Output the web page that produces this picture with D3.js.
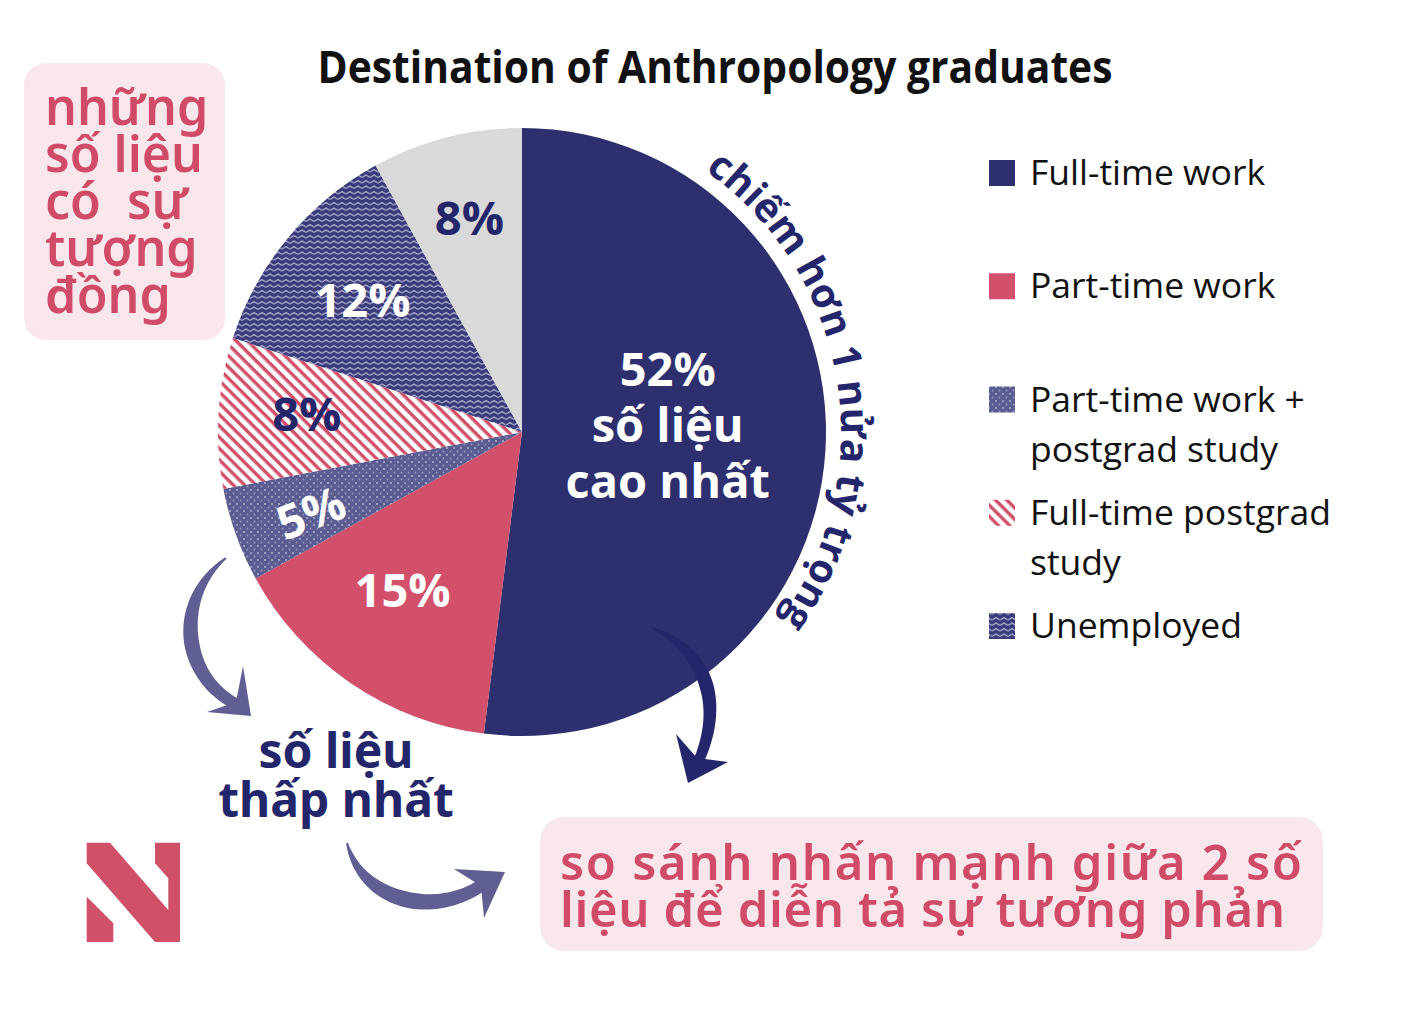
<!DOCTYPE html>
<html><head><meta charset="utf-8">
<script src="https://cdn.jsdelivr.net/npm/d3@7"></script>
<style>body{margin:0;background:#fff}svg{display:block}</style>
</head><body>
<svg id="c" width="1420" height="1032"></svg>
<script>
// ---------- data ----------
const categories = ["Full-time work","Part-time work","Part-time work + postgrad study","Full-time postgrad study","Unemployed","Other"];
const values = [52,15,5,8,12,8];
const sliceLabels = ["52%","15%","5%","8%","12%","8%"];
const centerNote = ["52%","số liệu","cao nhất"];
const legendEntries = [["Full-time work"],["Part-time work"],["Part-time work +","postgrad study"],["Full-time postgrad","study"],["Unemployed"]];
const title = "Destination of Anthropology graduates";
const curvedNote = "chiếm hơn 1 nửa tỷ trọng";
const similarNote = ["những","số liệu","có\u00a0\u00a0sự","tượng","đồng"];
const lowestNote = ["số liệu","thấp nhất"];
const contrastNote = ["so sánh nhấn mạnh giữa 2 số","liệu để diễn tả sự tương phản"];

// ---------- styles ----------
const NAVY = "#2e2f6e", NAVY_T = "#24266b", PINK = "#d3506a", SLATE = "#5f5f93", GREY = "#d9d9d9";
const fills = ["fill:"+NAVY,"fill:"+PINK,"url(#dots)","url(#stripes)","url(#wavy)","fill:"+GREY];
const labelColors = ["#fff","#fff","#fff",NAVY_T,"#fff",NAVY_T];

const svg = d3.select("#c");
const defs = svg.append("defs");
// dots
const pd = defs.append("pattern").attr("id","dots").attr("patternUnits","userSpaceOnUse").attr("width",7).attr("height",7);
pd.append("rect").attr("width",7).attr("height",7).attr("fill","#5b5c91");
pd.append("circle").attr("cx",2).attr("cy",2).attr("r",0.9).attr("fill","#b9b9d6");
pd.append("circle").attr("cx",5.5).attr("cy",5.5).attr("r",0.9).attr("fill","#9a9ac0");
// stripes
const ps = defs.append("pattern").attr("id","stripes").attr("patternUnits","userSpaceOnUse").attr("width",8).attr("height",8).attr("patternTransform","rotate(45)");
ps.append("rect").attr("width",8).attr("height",8).attr("fill","#fff");
ps.append("rect").attr("width",8).attr("height",3.4).attr("fill",PINK);
// wavy
const pw = defs.append("pattern").attr("id","wavy").attr("patternUnits","userSpaceOnUse").attr("width",8).attr("height",5.5);
pw.append("rect").attr("width",8).attr("height",5.5).attr("fill","#3a3b7a");
pw.append("path").attr("d","M0,4 L4,1.5 L8,4").attr("fill","none").attr("stroke","#c9c9e4").attr("stroke-width",1.1);

function fillOf(i){ return fills[i].startsWith("url") ? fills[i] : fills[i].slice(5); }

// ---------- title ----------
svg.append("text").attr("x",715).attr("y",83).attr("text-anchor","middle")
  .attr("font-family","Open Sans").attr("font-weight",700).attr("font-size",44)
  .attr("textLength",795).attr("lengthAdjust","spacingAndGlyphs").attr("fill","#111").text(title);

// ---------- pie ----------
const cx = 522, cy = 432, R = 304;
const pie = d3.pie().sort(null).value(d=>d)(values);
const arc = d3.arc().innerRadius(0).outerRadius(R);
const g = svg.append("g").attr("transform",`translate(${cx},${cy})`);
g.selectAll("path.s").data(pie).join("path").attr("class","s").attr("d",arc).attr("fill",(d,i)=>fillOf(i));

// labels
const labelR = [146,198,226,216,207,220];
const labelAngOff = [0,0.05,-0.02,0.02,0,0.01];
const lf = {family:"Open Sans", weight:700, size:47};
pie.forEach((d,i)=>{
  const a = (d.startAngle+d.endAngle)/2 + labelAngOff[i];
  const x = Math.sin(a)*labelR[i], y = -Math.cos(a)*labelR[i];
  if(i===0){
    const t = g.append("text").attr("text-anchor","middle").attr("font-family",lf.family).attr("font-weight",lf.weight)
      .attr("font-size",lf.size).attr("fill","#fff");
    centerNote.forEach((s,k)=> t.append("tspan").attr("x",x).attr("y",y-55+k*56).text(s));
  } else {
    g.append("text").attr("transform",`translate(${x},${y}) rotate(${i===2?-21:0})`).attr("text-anchor","middle")
      .attr("dy","0.36em").attr("font-family",lf.family).attr("font-weight",lf.weight).attr("font-size",lf.size)
      .attr("fill",labelColors[i]).text(sliceLabels[i]);
  }
});

// curved note
const cr = 319, a0 = 35*Math.PI/180, a1 = 165*Math.PI/180;
defs.append("path").attr("id","curve")
  .attr("d",`M${cx+cr*Math.sin(a0)},${cy-cr*Math.cos(a0)} A${cr},${cr} 0 0 1 ${cx+cr*Math.sin(a1)},${cy-cr*Math.cos(a1)}`);
svg.append("text").attr("font-family","Open Sans").attr("font-weight",700).attr("font-size",40).attr("fill",NAVY_T)
  .append("textPath").attr("href","#curve").text(curvedNote);

// ---------- legend ----------
const lg = svg.append("g");
const ly = d3.scaleLinear().domain([0,4]).range([160,613]);
legendEntries.forEach((lines,i)=>{
  lg.append("rect").attr("x",989).attr("y",ly(i)).attr("width",26).attr("height",26).attr("fill",fillOf(i));
  const t = lg.append("text").attr("font-family","Open Sans").attr("font-size",35.5).attr("fill","#111");
  lines.forEach((s,k)=> t.append("tspan").attr("x",1030).attr("y",ly(i)+25+k*50).text(s));
});

// ---------- annotation boxes ----------
svg.append("rect").attr("x",24).attr("y",63).attr("width",201).attr("height",277).attr("rx",22).attr("fill","#f9e7eb");
const t1 = svg.append("text").attr("font-family","Noto Sans").attr("font-weight",600).attr("font-size",50).attr("fill","#d04b67");
similarNote.forEach((s,k)=> t1.append("tspan").attr("x",45).attr("y",125+k*47).text(s));

svg.append("rect").attr("x",540).attr("y",817).attr("width",783).attr("height",134).attr("rx",24).attr("fill","#f9e7eb");
const contrastLen = [742,725];
contrastNote.forEach((s,k)=> svg.append("text").attr("font-family","Noto Sans").attr("font-weight",600).attr("font-size",49)
  .attr("fill","#d04b67").attr("x",560).attr("y",880+k*47).attr("textLength",contrastLen[k]).attr("lengthAdjust","spacing").text(s));

const t3 = svg.append("text").attr("text-anchor","middle").attr("font-family","Noto Sans").attr("font-weight",700).attr("font-size",48).attr("fill",NAVY_T);
lowestNote.forEach((s,k)=> t3.append("tspan").attr("x",336).attr("y",768+k*49).text(s));

// ---------- arrows ----------
function bez(p,t){const u=1-t;return [u*u*u*p[0][0]+3*u*u*t*p[1][0]+3*u*t*t*p[2][0]+t*t*t*p[3][0],
  u*u*u*p[0][1]+3*u*u*t*p[1][1]+3*u*t*t*p[2][1]+t*t*t*p[3][1]];}
function dbez(p,t){const u=1-t;return [3*u*u*(p[1][0]-p[0][0])+6*u*t*(p[2][0]-p[1][0])+3*t*t*(p[3][0]-p[2][0]),
  3*u*u*(p[1][1]-p[0][1])+6*u*t*(p[2][1]-p[1][1])+3*t*t*(p[3][1]-p[2][1])];}
function arrow(p,wmax,head,color){
  const L=[],Rr=[],N=50;
  for(let i=0;i<=N;i++){const t=i/N,b=bez(p,t),d=dbez(p,t),len=Math.hypot(d[0],d[1]);const n=[-d[1]/len,d[0]/len];
    const w = wmax*(t<0.55 ? 0.12+0.88*Math.sin(t/0.55*Math.PI/2) : 1-0.25*(t-0.55)/0.45);
    L.push([b[0]+n[0]*w/2,b[1]+n[1]*w/2]);Rr.push([b[0]-n[0]*w/2,b[1]-n[1]*w/2]);}
  const line=d3.line().curve(d3.curveLinearClosed);
  svg.append("path").attr("d",line(L.concat(Rr.reverse()))).attr("fill",color);
  svg.append("path").attr("d",line(head)).attr("fill",color);
}
arrow([[226,558],[172,600],[182,680],[240,706]],15,[[243,666],[251,716],[207,712],[236,702]],SLATE);
arrow([[347,843],[363,905],[440,918],[486,882]],16,[[454,869],[505,872],[484,918],[481,886]],SLATE);
arrow([[652,628],[705,650],[724,702],[699,760]],14,[[676,734],[697,758],[728,762],[688,783]],NAVY_T);

// ---------- logo ----------
const logoA=[[86.7,842.7],[110,842.7],[168.3,910],[168.3,878.3],[155,863.3],[155,842.7],[180,842.7],[180,942],[155,942],[86.7,863.3]];
const logoB=[[86.7,896.7],[113.3,923.3],[113.3,942],[86.7,942]];
const ll=d3.line().curve(d3.curveLinearClosed);
svg.append("path").attr("d",ll(logoA)).attr("fill","#d05068");
svg.append("path").attr("d",ll(logoB)).attr("fill","#d05068");
</script>
</body></html>
